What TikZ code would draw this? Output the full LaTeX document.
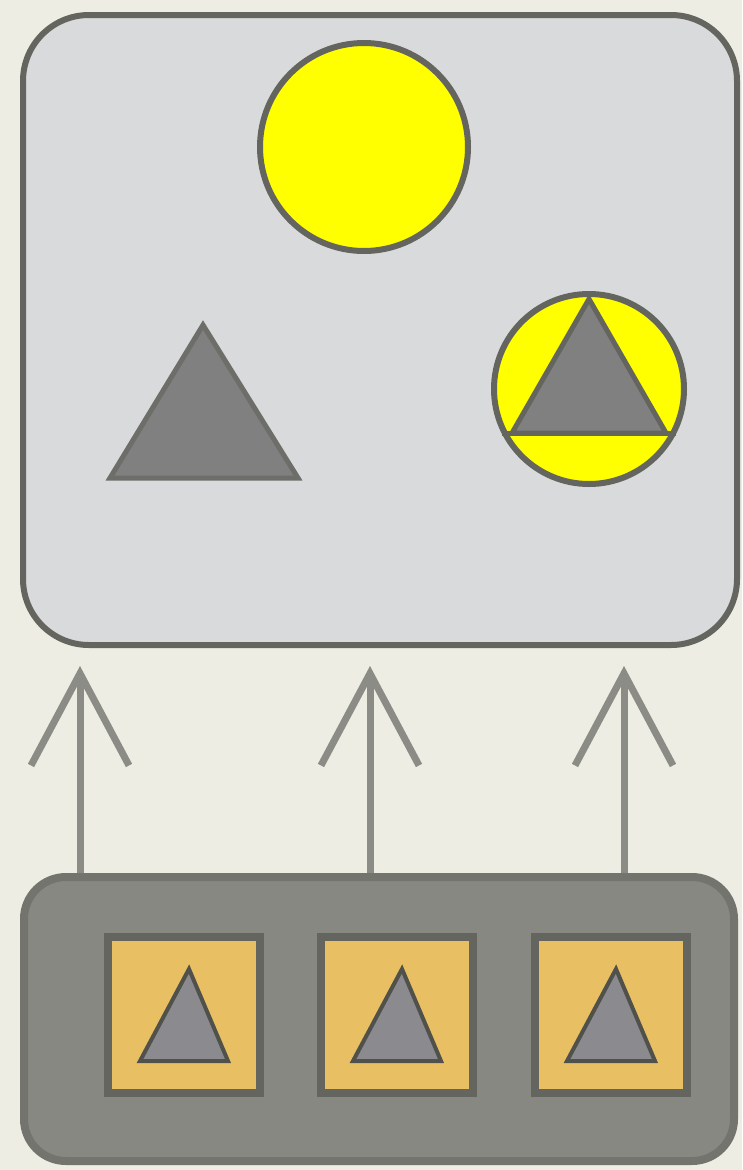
\documentclass[tikz,border=0pt]{standalone}
\usepackage{xcolor}
\usepackage{tikz}
\usetikzlibrary{calc}
\usetikzlibrary{arrows.meta}
\definecolor{bgbeige}{HTML}{EDEDE4}
\definecolor{panelgray}{HTML}{D9DADB}
\definecolor{edgegray}{HTML}{65655F}
\definecolor{basegray}{HTML}{878882}
\definecolor{slotgold}{HTML}{E8BF63}
\definecolor{arrowgray}{HTML}{8C8C86}
\definecolor{trigray}{HTML}{808080}
\definecolor{smalltri}{HTML}{8A8A8F}
\definecolor{sunyellow}{HTML}{FFFF00}
\tikzset{
 panel/.style={draw=edgegray, line width=6pt, inner sep=0pt},
 slot/.style={draw=edgegray, fill=slotgold, line width=8pt, minimum width=152pt, minimum height=156pt, inner sep=0pt},
 sun/.style={circle, draw=edgegray, fill=sunyellow, line width=6pt, inner sep=0pt},
 tri/.style={draw=edgegray, fill=trigray, line width=5pt, line join=miter},
 up/.style={arrowgray, line width=7pt, shorten >=18pt, -{Straight Barb[length=92pt, width=98pt, line width=7pt]}}
}

\begin{document}
\begin{tikzpicture} [x=1pt, y=-1pt]
\useasboundingbox (0,0) rectangle (742,1170);
\fill[bgbeige] (0,0) rectangle (742,1170);
% upper panel
\node[panel, fill=panelgray, rounded corners=66pt, minimum width=714pt, minimum height=630pt] (upper) at (380,330) {};
\node[sun, minimum size=208pt] (bigsun) at (364,147) {};
\draw[tri, draw=edgegray!70!trigray] (110,478) -- (298,478) -- (203,325) -- cycle;
\node[sun, minimum size=190pt] (smallsun) at (589,389) {};
\draw[tri] (512,433) -- (666,433) -- (589,299) -- cycle;
\draw[edgegray, line width=5pt] (smallsun.207) -- (smallsun.-27);
% lower panel
\node[panel, draw=edgegray!90, fill=basegray, line width=8pt, rounded corners=42pt, minimum width=710pt, minimum height=284pt] (lower) at (379,1019) {};
\foreach \i/\x in {1/184, 2/397, 3/611} {
 \node[slot] (s\i) at (\x,1015) {};
 \draw[tri, fill=smalltri, draw=edgegray!80!black, line width=4pt, shift={(s\i.center)}] (-44,46) -- (44,46) -- (5,-46) -- cycle;
};
% arrows
\foreach \i/\x in {1/80, 2/370, 3/624} {
 \coordinate (foot\i) at (\x,870);
 \draw[up] (lower.north -| foot\i) -- (upper.south -| foot\i);
};
\end{tikzpicture}
\end{document}
